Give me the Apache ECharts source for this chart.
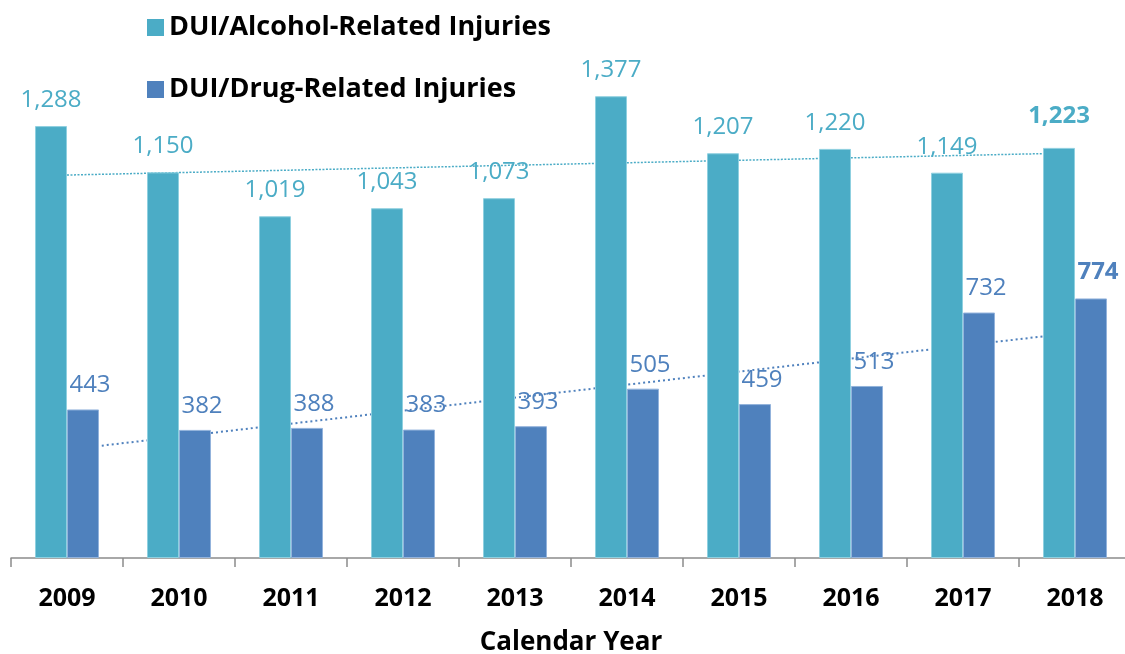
<!DOCTYPE html>
<html>
<head>
<meta charset="utf-8">
<script src="https://cdn.jsdelivr.net/npm/echarts@6/dist/echarts.min.js"></script>
<style>
  html, body { margin: 0; padding: 0; background: #fff; }
  #chart { width: 1125px; height: 654px; }
</style>
</head>
<body>
<div id="chart"></div>
<script>
var years = ['2009', '2010', '2011', '2012', '2013', '2014', '2015', '2016', '2017', '2018'];
var alcoholInjuries = [1288, 1150, 1019, 1043, 1073, 1377, 1207, 1220, 1149, 1223];
var drugInjuries = [443, 382, 388, 383, 393, 505, 459, 513, 732, 774];
// trendline end values (first and last year)
var alcoholTrendEnds = [1142, 1208];
var drugTrendEnds = [323, 672];

var alcoholColor = '#4BACC6';
var drugColor = '#4F81BD';
var fontName = '"Open Sans", "Liberation Sans", sans-serif';

// latest year gets a bold label, sitting a bit higher
function withBoldLast(values, lift) {
  return values.map(function (v, i) {
    if (i === values.length - 1) {
      return { value: v, label: { fontWeight: 'bold', offset: lift } };
    }
    return v;
  });
}

function trendData(ends) {
  var arr = years.map(function () { return null; });
  arr[0] = ends[0];
  arr[arr.length - 1] = ends[1];
  return arr;
}

var myChart = echarts.init(document.getElementById('chart'));

var option = {
  animation: false,
  textStyle: { fontFamily: fontName },
  legend: {
    orient: 'vertical',
    left: 142,
    top: 9,
    icon: 'rect',
    itemWidth: 17,
    itemHeight: 17,
    itemGap: 35,
    itemStyle: { borderWidth: 0 },
    data: ['DUI/Alcohol-Related Injuries', 'DUI/Drug-Related Injuries'],
    textStyle: { fontSize: 27, fontWeight: 'bold', color: '#000', fontFamily: fontName }
  },
  grid: {
    left: 11,
    width: 1120,
    top: 55,
    height: 503,
    outerBoundsMode: 'none',
    containLabel: false
  },
  xAxis: {
    type: 'category',
    data: years,
    axisLine: { lineStyle: { color: '#8c8c8c', width: 1.5 } },
    axisTick: { show: true, length: 9, lineStyle: { color: '#8c8c8c', width: 1.5 } },
    axisLabel: { fontSize: 25, fontWeight: 'bold', color: '#000', margin: 28, fontFamily: fontName },
    name: 'Calendar Year',
    nameLocation: 'middle',
    nameGap: 72,
    nameTextStyle: { fontSize: 26, fontWeight: 'bold', color: '#000', fontFamily: fontName }
  },
  yAxis: {
    type: 'value',
    min: 0,
    max: 1500,
    show: false,
    splitLine: { show: false }
  },
  series: [
    {
      name: 'DUI/Alcohol-Related Injuries',
      type: 'bar',
      barWidth: 32,
      barGap: '0%',
      z: 3,
      itemStyle: { color: alcoholColor, borderColor: '#8fd0e0', borderWidth: 1 },
      label: {
        show: true,
        position: 'top',
        distance: 14,
        fontSize: 24,
        color: alcoholColor,
        fontFamily: fontName,
        formatter: function (p) { return p.value.toLocaleString('en-US'); }
      },
      data: withBoldLast(alcoholInjuries, [0, -6])
    },
    {
      name: 'DUI/Drug-Related Injuries',
      type: 'bar',
      barWidth: 32,
      z: 3,
      itemStyle: { color: drugColor, borderColor: '#93b3dc', borderWidth: 1 },
      label: {
        show: true,
        position: 'top',
        distance: 12,
        offset: [7, 0],
        fontSize: 24,
        color: drugColor,
        fontFamily: fontName,
        formatter: function (p) { return p.value.toLocaleString('en-US'); }
      },
      data: withBoldLast(drugInjuries, [7, -2])
    },
    {
      name: 'alcohol trend',
      type: 'line',
      z: 1,
      connectNulls: true,
      symbol: 'none',
      silent: true,
      lineStyle: { color: alcoholColor, width: 1.5, type: [2, 1.5] },
      data: trendData(alcoholTrendEnds)
    },
    {
      name: 'drug trend',
      type: 'line',
      z: 1,
      connectNulls: true,
      symbol: 'none',
      silent: true,
      lineStyle: { color: drugColor, width: 2, type: [2, 3] },
      data: trendData(drugTrendEnds)
    }
  ]
};

myChart.setOption(option);
</script>
</body>
</html>
